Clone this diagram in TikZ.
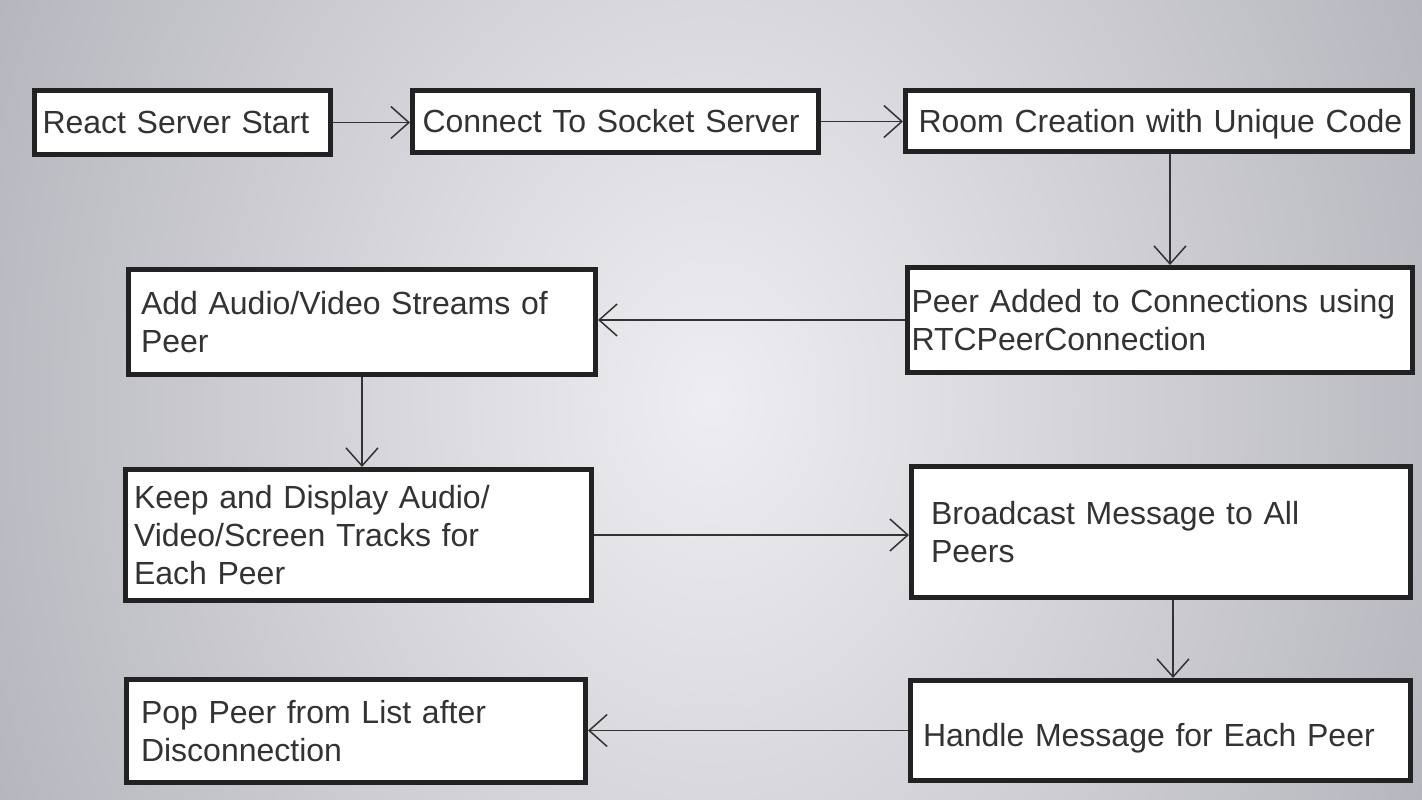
\documentclass[tikz,border=0pt]{standalone}
\usepackage{fontspec}
\setmainfont{Liberation Sans}
\usetikzlibrary{arrows.meta}

\definecolor{bglight}{HTML}{EEEEF2}
\definecolor{bgdark}{HTML}{B0B0B8}
\definecolor{boxline}{HTML}{222222}
\definecolor{inkgrey}{HTML}{333333}

\begin{document}
\begin{tikzpicture}[x=1pt,y=-1pt,
  flowbox/.style={draw=boxline, line width=5pt, fill=white, text=inkgrey,
    font=\fontsize{32}{38}\selectfont, align=left, inner ysep=0pt},
  flow/.style={draw=inkgrey, line width=1.5pt,
    -{Straight Barb[length=18pt,width=32pt]}}]
  \useasboundingbox (0,0) rectangle (1422,800);
  % background
  \begin{scope}
    \clip (0,0) rectangle (1422,800);
    \shade[inner color=bglight, outer color=bgdark] (-150,-700) rectangle (1572,1500);
  \end{scope}

  % top row
  \node[flowbox, text width=280pt, inner xsep=8pt, minimum height=64pt] (start) at (182.5,122.5) {React Server Start};
  \node[flowbox, text width=386pt, inner xsep=10pt, minimum height=62pt] (socket) at (615.5,121.5) {Connect To Socket Server};
  \node[flowbox, text width=481pt, inner xsep=13pt, minimum height=61pt, text depth=0pt] (room) at (1159,121) {\mbox{Room Creation with Unique Code}};

  % second row
  \node[flowbox, text width=497pt, inner xsep=4pt, minimum height=105pt] (peer) at (1160,320) {Peer Added to Connections using\\RTCPeerConnection};
  \node[flowbox, text width=442pt, inner xsep=12.5pt, minimum height=105pt] (streams) at (362,322) {Add Audio/Video Streams of\\Peer};

  % third row
  \node[flowbox, text width=449pt, inner xsep=8.5pt, minimum height=131pt] (tracks) at (358.5,535) {Keep and Display Audio/\\Video/Screen Tracks for\\Each Peer};
  \node[flowbox, text width=460pt, inner xsep=19.5pt, minimum height=131pt] (broadcast) at (1161,532) {Broadcast Message to All\\Peers};

  % bottom row
  \node[flowbox, text width=475pt, inner xsep=12.5pt, minimum height=100pt, text height=38pt] (handle) at (1160.5,730.5) {Handle Message for Each Peer};
  \node[flowbox, text width=430pt, inner xsep=14.5pt, minimum height=103pt] (pop) at (356,731) {Pop Peer from List after\\Disconnection};

  % connectors
  \draw[flow] (start.east) -- (start.east -| socket.west);
  \draw[flow] (socket.east) -- (socket.east -| room.west);
  \draw[flow] ([xshift=11pt]room.south) -- ([xshift=11pt]room.south |- peer.north);
  \draw[flow] (peer.west) -- (peer.west -| streams.east);
  \draw[flow] (streams.south) -- (streams.south |- tracks.north);
  \draw[flow] (tracks.east) -- (tracks.east -| broadcast.west);
  \draw[flow] ([xshift=12pt]broadcast.south) -- ([xshift=12pt]broadcast.south |- handle.north);
  \draw[flow] (handle.west) -- (handle.west -| pop.east);
\end{tikzpicture}
\end{document}
